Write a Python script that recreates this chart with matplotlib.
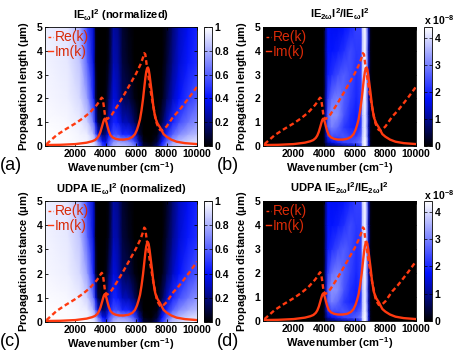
import numpy as np
import matplotlib
matplotlib.use("Agg")
import matplotlib.pyplot as plt
from matplotlib.colors import LinearSegmentedColormap

plt.rcParams['font.family'] = ['Liberation Sans', 'DejaVu Sans']
plt.rcParams['font.weight'] = 'bold'
plt.rcParams['axes.titleweight'] = 'bold'
plt.rcParams['axes.labelweight'] = 'bold'
plt.rcParams['mathtext.default'] = 'regular'

# ---------------- data: lines ----------------
re_x = [100, 770, 1400, 2000, 2500, 2960, 3400, 3550, 3650, 3730, 3800, 3880, 3960,
        4100, 4400, 4800, 5200, 5600, 6000, 6300, 6450, 6530, 6600, 6690, 6800, 6900,
        7020, 7130, 7250, 7350, 7460, 7570, 7700, 7800, 8000, 8440, 8800, 9100, 9500, 10000]
re_y = [0.08, 0.46, 0.72, 0.95, 1.17, 1.41, 1.72, 1.85, 1.96, 2.03, 1.98, 1.62, 1.22,
        1.13, 1.32, 1.72, 2.15, 2.6, 3.05, 3.45, 3.72, 3.9, 3.85, 3.4, 2.95, 2.5,
        2.05, 1.65, 1.25, 0.95, 0.78, 0.67, 0.66, 0.7, 0.82, 1.23, 1.48, 1.72, 2.05, 2.49]

im_x = [0, 1000, 2000, 2740, 3100, 3290, 3450, 3550, 3650, 3750, 3820, 3880, 3930, 3980,
        4050, 4120, 4200, 4300, 4450, 4650, 4900, 5200, 5500, 5750, 5920, 6050, 6150,
        6250, 6350, 6450, 6530, 6600, 6660, 6720, 6770, 6820, 6880, 6950, 7030, 7130,
        7250, 7400, 7570, 7800, 8000, 8300, 8660, 9200, 10000]
im_y = [0.04, 0.05, 0.08, 0.14, 0.2, 0.25, 0.34, 0.44, 0.6, 0.82, 0.98, 1.1, 1.15, 1.12,
        0.98, 0.8, 0.62, 0.46, 0.36, 0.3, 0.27, 0.27, 0.3, 0.38, 0.5, 0.68, 0.88,
        1.12, 1.5, 1.98, 2.45, 2.85, 3.12, 3.27, 3.3, 3.22, 2.98, 2.62, 2.22, 1.65,
        1.2, 0.95, 0.78, 0.5, 0.39, 0.27, 0.18, 0.12, 0.08]

# ---------------- data: heat maps ----------------
z_a = [0, 0.2, 0.5, 1.0, 2.0, 3.5, 5.0]
x_a = [0, 1500, 2300, 2800, 3200, 3350, 3500, 3800, 4000, 4200, 4500, 4800, 5100,
       5500, 5900, 6200, 6500, 7000, 7400, 7700, 8000, 8400, 8800, 9400, 10000]
cols_a = [
    [1.0, 1.0, 1.0, 0.99, 0.98, 0.97, 0.96],
    [1.0, 0.99, 0.99, 0.98, 0.96, 0.94, 0.93],
    [0.99, 0.98, 0.97, 0.95, 0.9, 0.85, 0.8],
    [0.98, 0.97, 0.95, 0.88, 0.75, 0.6, 0.52],
    [0.95, 0.9, 0.82, 0.65, 0.45, 0.35, 0.32],
    [0.9, 0.8, 0.6, 0.35, 0.1, 0.03, 0.02],
    [0.8, 0.65, 0.35, 0.1, 0.0, 0.0, 0.0],
    [0.55, 0.4, 0.15, 0.02, 0.0, 0.0, 0.0],
    [0.45, 0.35, 0.2, 0.08, 0.02, 0.0, 0.0],
    [0.6, 0.55, 0.4, 0.3, 0.15, 0.05, 0.02],
    [0.8, 0.7, 0.55, 0.45, 0.35, 0.28, 0.25],
    [0.85, 0.75, 0.55, 0.42, 0.3, 0.25, 0.22],
    [0.85, 0.72, 0.45, 0.3, 0.15, 0.1, 0.08],
    [0.8, 0.7, 0.45, 0.28, 0.12, 0.05, 0.03],
    [0.7, 0.55, 0.35, 0.15, 0.03, 0.0, 0.0],
    [0.35, 0.25, 0.1, 0.02, 0.0, 0.0, 0.0],
    [0.08, 0.03, 0.0, 0.0, 0.0, 0.0, 0.0],
    [0.05, 0.0, 0.0, 0.0, 0.0, 0.0, 0.0],
    [0.2, 0.1, 0.03, 0.0, 0.0, 0.0, 0.0],
    [0.5, 0.4, 0.25, 0.12, 0.03, 0.0, 0.0],
    [0.7, 0.6, 0.45, 0.3, 0.15, 0.08, 0.05],
    [0.85, 0.75, 0.6, 0.45, 0.3, 0.22, 0.18],
    [0.9, 0.82, 0.7, 0.55, 0.4, 0.33, 0.3],
    [0.95, 0.88, 0.78, 0.65, 0.5, 0.42, 0.38],
    [0.97, 0.92, 0.83, 0.72, 0.58, 0.48, 0.45],
]

z_b = [0, 0.15, 0.4, 0.8, 1.3, 2.0, 3.0, 4.0, 5.0]
x_b = [0, 3950, 4100, 4250, 4500, 4900, 5300, 5700, 6100, 6400, 6520, 6680, 6800,
       6920, 7050, 7200, 10000]
cols_b = [  # units of 1e-8
    [0, 0, 0, 0, 0, 0, 0, 0, 0],
    [0, 0, 0, 0, 0, 0, 0, 0, 0],
    [0.3, 0.7, 0.9, 1.0, 1.1, 1.1, 1.0, 1.0, 1.0],
    [0.5, 1.2, 2.0, 2.6, 2.7, 2.3, 1.9, 1.8, 1.8],
    [0.6, 1.6, 2.4, 3.0, 3.2, 2.8, 2.1, 1.8, 1.7],
    [0.8, 2.0, 2.4, 2.7, 3.1, 3.0, 2.4, 1.9, 1.7],
    [1.0, 2.3, 2.5, 2.2, 2.5, 2.6, 2.6, 2.1, 1.8],
    [1.2, 2.4, 2.3, 2.0, 2.1, 2.3, 2.4, 2.4, 2.0],
    [1.5, 2.6, 2.3, 1.9, 1.9, 2.0, 2.1, 2.2, 2.3],
    [2.2, 2.9, 2.6, 2.2, 2.2, 2.2, 2.2, 2.2, 2.3],
    [3.8, 4.0, 3.8, 3.7, 3.7, 3.8, 3.8, 3.8, 3.9],
    [4.4, 4.4, 4.3, 4.2, 4.2, 4.3, 4.3, 4.3, 4.3],
    [3.4, 3.6, 3.4, 3.2, 3.2, 3.2, 3.2, 3.2, 3.2],
    [1.2, 1.4, 1.2, 1.1, 1.1, 1.1, 1.1, 1.1, 1.1],
    [0.1, 0.1, 0.1, 0.1, 0.1, 0.1, 0.1, 0.1, 0.1],
    [0, 0, 0, 0, 0, 0, 0, 0, 0],
    [0, 0, 0, 0, 0, 0, 0, 0, 0],
]

cb_ticks_a = [0, 0.2, 0.4, 0.6, 0.8, 1]
cb_labels_a = ["0", "0.2", "0.4", "0.6", "0.8", "1"]
cb_ticks_b = [0, 1, 2, 3, 4]
cb_labels_b = ["0", "1", "2", "3", "4"]
x_ticks = [2000, 4000, 6000, 8000, 10000]
y_ticks = [0, 1, 2, 3, 4, 5]

titles = [r"IE$_{\omega}$I$^{2}$ (normalized)",
          r"IE$_{2\omega}$I$^{2}$/IE$_{\omega}$I$^{2}$",
          r"UDPA IE$_{\omega}$I$^{2}$ (normalized)",
          r"UDPA IE$_{2\omega}$I$^{2}$/IE$_{2\omega}$I$^{2}$"]
ylabels = [r"Propagation length ($\mu$m)", r"Propagation length ($\mu$m)",
           r"Propagation distance ($\mu$m)", r"Propagation distance ($\mu$m)"]
panel_letters = ["(a)", "(b)", "(c)", "(d)"]

# ---------------- figure ----------------
W, H = 463, 362
fig = plt.figure(figsize=(W / 100, H / 100), dpi=100)
cmap = LinearSegmentedColormap.from_list("bbw", [(0, "black"), (0.4, "#0010ff"), (1, "white")])
red = "#ff3a10"
txtred = "#d82a08"

def px(l, t, r, b):
    return [l / W, 1 - b / H, (r - l) / W, (b - t) / H]

layouts = [
    (px(45, 27, 197, 146), px(204, 27, 212, 146)),
    (px(263, 27, 416, 146), px(424, 27, 432, 146)),
    (px(45, 201, 197, 322), px(204, 201, 212, 322)),
    (px(263, 201, 416, 321), px(424, 201, 432, 321)),
]

for i, (axr, cbr) in enumerate(layouts):
    ax = fig.add_axes(axr)
    cax = fig.add_axes(cbr)
    if i % 2 == 0:
        X, Z = np.meshgrid(x_a, z_a)
        C = np.array(cols_a).T
        m = ax.pcolormesh(X, Z, C, shading="gouraud", cmap=cmap, vmin=0, vmax=1)
        ticks, tlabels = cb_ticks_a, cb_labels_a
    else:
        X, Z = np.meshgrid(x_b, z_b)
        C = np.array(cols_b).T
        m = ax.pcolormesh(X, Z, C, shading="gouraud", cmap=cmap, vmin=0, vmax=4.4)
        ticks, tlabels = cb_ticks_b, cb_labels_b
    l1, = ax.plot(re_x, re_y, color=red, lw=1.7, linestyle=(0, (2.0, 1.3)))
    l2, = ax.plot(im_x, im_y, color=red, lw=1.7)
    ax.set_xlim(0, 10000)
    ax.set_ylim(0, 5)
    ax.set_xticks(x_ticks)
    ax.set_xticklabels([str(v) for v in x_ticks], fontweight="bold")
    ax.set_yticks(y_ticks)
    ax.set_yticklabels([str(v) for v in y_ticks], fontweight="bold")
    ax.tick_params(direction="in", length=2.5, width=0.6, labelsize=7.5, pad=2,
                   top=True, right=True)
    ax.set_xlabel(r"Wavenumber (cm$^{-1}$)", fontsize=8, fontweight="bold", labelpad=1)
    ax.set_ylabel(ylabels[i], fontsize=8, fontweight="bold", labelpad=4)
    ax.set_title(titles[i], fontsize=8, fontweight="bold", pad=6)
    leg = ax.legend([l1, l2], ["Re(k)", "Im(k)"], loc="upper left", frameon=False,
                    handlelength=0.35, handletextpad=0.1, labelspacing=0.05,
                    borderaxespad=0.1, borderpad=0.15,
                    prop={"weight": "normal", "size": 10}, labelcolor=txtred)
    for h in leg.legend_handles:
        h.set_linewidth(1.0)
    for sp in ax.spines.values():
        sp.set_linewidth(0.6)
    cb = fig.colorbar(m, cax=cax, ticks=ticks)
    cb.ax.set_yticklabels(tlabels, fontweight="bold")
    cb.outline.set_linewidth(0.6)
    cax.tick_params(direction="in", length=2, width=0.5, labelsize=7.5, pad=2,
                    left=True, right=True)
    if i % 2 == 1:
        fig.text(424 / W, 1 - (20 if i == 1 else 195) / H, r"x 10$^{-8}$",
                 fontsize=7.5, fontweight="bold", ha="left", va="center")

letter_pos = [(0, 165), (217, 165), (0, 342), (217, 342)]
for (x0, y0), t in zip(letter_pos, panel_letters):
    fig.text(x0 / W, 1 - y0 / H, t, fontsize=13, fontweight="normal", ha="left", va="center")

fig.savefig("out.png", dpi=100)
